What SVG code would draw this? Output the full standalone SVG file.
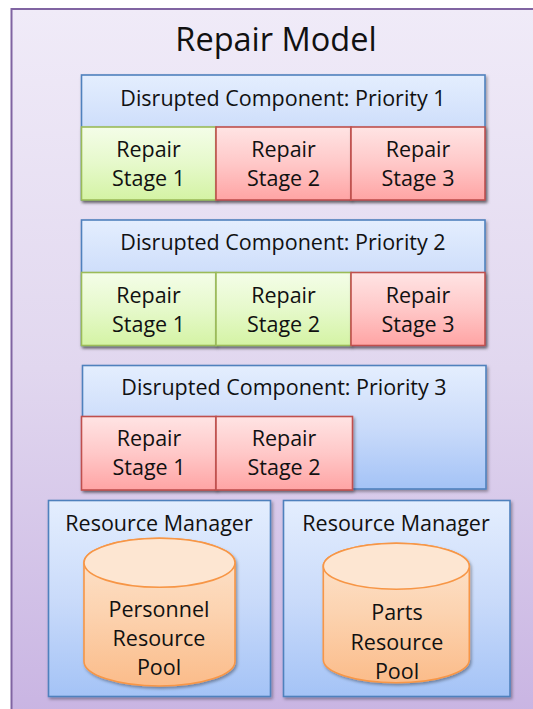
<svg xmlns="http://www.w3.org/2000/svg" width="533" height="709" viewBox="0 0 533 709">
  <defs>
    <linearGradient id="gOuter" x1="0" y1="0" x2="0" y2="1">
      <stop offset="0" stop-color="#F0EBF8"/>
      <stop offset="0.5" stop-color="#E1D7EF"/>
      <stop offset="1" stop-color="#C8B3E2"/>
    </linearGradient>
    <linearGradient id="gBlue" x1="0" y1="0" x2="0" y2="1">
      <stop offset="0" stop-color="#E4EEFE"/>
      <stop offset="0.5" stop-color="#CADBFA"/>
      <stop offset="1" stop-color="#A4C3F6"/>
    </linearGradient>
    <linearGradient id="gRed" x1="0" y1="0" x2="0" y2="1">
      <stop offset="0" stop-color="#FFE4E4"/>
      <stop offset="0.5" stop-color="#FFC8C8"/>
      <stop offset="1" stop-color="#FFA4A4"/>
    </linearGradient>
    <linearGradient id="gGreen" x1="0" y1="0" x2="0" y2="1">
      <stop offset="0" stop-color="#F4FDE8"/>
      <stop offset="0.5" stop-color="#E6F9CB"/>
      <stop offset="1" stop-color="#D4F3A4"/>
    </linearGradient>
    <linearGradient id="gOrange" x1="0" y1="0" x2="0" y2="1">
      <stop offset="0" stop-color="#FDE5D0"/>
      <stop offset="0.5" stop-color="#FCD3B0"/>
      <stop offset="1" stop-color="#FBBC8A"/>
    </linearGradient>
    <filter id="shadow" x="-10%" y="-10%" width="130%" height="130%">
      <feDropShadow dx="1.5" dy="2" stdDeviation="1.5" flood-color="#000" flood-opacity="0.35"/>
    </filter>
  </defs>
  <style>
    text { font-family: "Open Sans", "Liberation Sans", sans-serif; fill: #111; text-anchor: middle; }
    .title { font-size: 32.5px; }
    .lbl { font-size: 21.5px; }
    .outer { fill: url(#gOuter); stroke: #8064A2; stroke-width: 2; }
    .blue { fill: url(#gBlue); stroke: #4F81BD; stroke-width: 1.6; filter: url(#shadow); }
    .red { fill: url(#gRed); stroke: #C0504D; stroke-width: 1.6; filter: url(#shadow); }
    .green { fill: url(#gGreen); stroke: #9BBB59; stroke-width: 1.6; filter: url(#shadow); }
    .cyl { fill: url(#gOrange); stroke: #F79646; stroke-width: 1.6; filter: url(#shadow); }
    .cyltop { fill: #FDE6D2; stroke: #F79646; stroke-width: 1.6; }
  </style>

  <g id="repair-model">
    <rect class="outer" x="11.5" y="9" width="540" height="720"/>
    <text class="title" x="276" y="51">Repair Model</text>
  </g>

  <g id="priority-1">
    <rect class="blue" x="81.5" y="75" width="403.5" height="125"/>
    <text class="lbl" x="283" y="106">Disrupted Component: Priority 1</text>
    <g id="p1-stage1">
      <rect class="green" x="81.5" y="127" width="134.5" height="73"/>
      <text class="lbl" x="148.5" y="157">Repair</text>
      <text class="lbl" x="148.5" y="185.5">Stage 1</text>
    </g>
    <g id="p1-stage2">
      <rect class="red" x="216" y="127" width="135" height="73"/>
      <text class="lbl" x="283.5" y="157">Repair</text>
      <text class="lbl" x="283.5" y="185.5">Stage 2</text>
    </g>
    <g id="p1-stage3">
      <rect class="red" x="351" y="127" width="134" height="73"/>
      <text class="lbl" x="418" y="157">Repair</text>
      <text class="lbl" x="418" y="185.5">Stage 3</text>
    </g>
  </g>

  <g id="priority-2">
    <rect class="blue" x="81.5" y="220" width="403.5" height="125.5"/>
    <text class="lbl" x="283" y="250">Disrupted Component: Priority 2</text>
    <g id="p2-stage1">
      <rect class="green" x="81.5" y="272.5" width="134.5" height="73"/>
      <text class="lbl" x="148.5" y="302.5">Repair</text>
      <text class="lbl" x="148.5" y="331.5">Stage 1</text>
    </g>
    <g id="p2-stage2">
      <rect class="green" x="216" y="272.5" width="135" height="73"/>
      <text class="lbl" x="283.5" y="302.5">Repair</text>
      <text class="lbl" x="283.5" y="331.5">Stage 2</text>
    </g>
    <g id="p2-stage3">
      <rect class="red" x="351" y="272.5" width="134" height="73"/>
      <text class="lbl" x="418" y="302.5">Repair</text>
      <text class="lbl" x="418" y="331.5">Stage 3</text>
    </g>
  </g>

  <g id="priority-3">
    <rect class="blue" x="82.5" y="365.5" width="403.5" height="123.5"/>
    <text class="lbl" x="284" y="394.5">Disrupted Component: Priority 3</text>
    <g id="p3-stage1">
      <rect class="red" x="81.5" y="416.5" width="134.5" height="73.5"/>
      <text class="lbl" x="149" y="446">Repair</text>
      <text class="lbl" x="149" y="474.5">Stage 1</text>
    </g>
    <g id="p3-stage2">
      <rect class="red" x="216" y="416.5" width="136.5" height="73.5"/>
      <text class="lbl" x="284" y="446">Repair</text>
      <text class="lbl" x="284" y="474.5">Stage 2</text>
    </g>
  </g>

  <g id="resource-manager-personnel">
    <rect class="blue" x="48.5" y="500.5" width="222" height="196"/>
    <text class="lbl" x="159" y="530.5">Resource Manager</text>
    <g id="personnel-pool">
      <path class="cyl" d="M84,562.8 A75.5,24.5 0 0 1 235,562.8 L235,661.5 A75.5,24.5 0 0 1 84,661.5 Z"/>
      <ellipse class="cyltop" cx="159.5" cy="562.8" rx="75.5" ry="24.5"/>
      <text class="lbl" x="159" y="616.5">Personnel</text>
      <text class="lbl" x="159" y="646">Resource</text>
      <text class="lbl" x="159" y="675">Pool</text>
    </g>
  </g>

  <g id="resource-manager-parts">
    <rect class="blue" x="283.5" y="500.5" width="226.5" height="196"/>
    <text class="lbl" x="396" y="530.5">Resource Manager</text>
    <g id="parts-pool">
      <path class="cyl" d="M323.3,566.3 A73,23 0 0 1 469.3,566.3 L469.3,659.7 A73,23 0 0 1 323.3,659.7 Z"/>
      <ellipse class="cyltop" cx="396.3" cy="566.3" rx="73" ry="23"/>
      <text class="lbl" x="397" y="619.5">Parts</text>
      <text class="lbl" x="397" y="649.5">Resource</text>
      <text class="lbl" x="397" y="678.5">Pool</text>
    </g>
  </g>
</svg>
